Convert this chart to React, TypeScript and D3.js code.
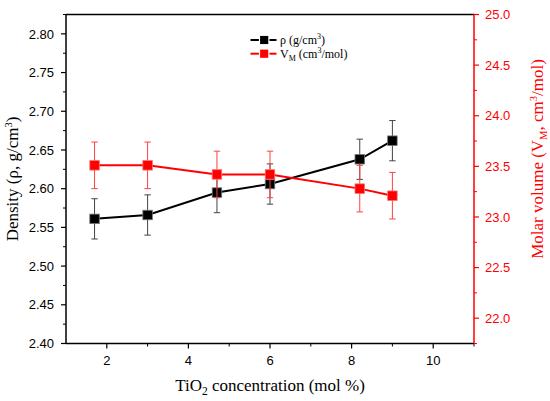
import { useEffect } from "react";
import * as d3 from "d3";

// TiO2 content (mol %)
const tio2 = [1.7, 3, 4.7, 6, 8.2, 9];
// density, g/cm3
const density = [2.561, 2.566, 2.595, 2.606, 2.638, 2.662];
const densityErr = [0.026, 0.026, 0.026, 0.026, 0.026, 0.026];
// molar volume, cm3/mol
const molarVol = [23.51, 23.51, 23.42, 23.42, 23.28, 23.21];
const molarVolErr = [0.23, 0.23, 0.23, 0.23, 0.23, 0.23];

const xTicks = [2, 4, 6, 8, 10];
const xMinor = [3, 5, 7, 9, 11];
const leftTicks = [2.4, 2.45, 2.5, 2.55, 2.6, 2.65, 2.7, 2.75, 2.8];
const rightTicks = [22.0, 22.5, 23.0, 23.5, 24.0, 24.5, 25.0];

const W = 550;
const H = 401;
const margin = { top: 14.5, right: 76, bottom: 57.5, left: 66 };
const RED = "#ff0000";
const sans = "'Liberation Sans', Arial, sans-serif";
const serif = "'Liberation Serif', 'Times New Roman', serif";

export default function App() {
  useEffect(() => {
    document.body.style.margin = "0";
  }, []);

  const x0 = margin.left;
  const x1 = W - margin.right;
  const y0 = H - margin.bottom;
  const y1 = margin.top;

  const x = d3.scaleLinear().domain([1, 11]).range([x0, x1]);
  const yL = d3.scaleLinear().domain([2.4, 2.825]).range([y0, y1]);
  const yR = d3.scaleLinear().domain([21.75, 25.0]).range([y0, y1]);

  // minor ticks halfway between the labelled ones
  const leftMinor = d3.range(2.425, 2.83, 0.05);
  const rightMinor = d3.range(21.75, 25.0, 0.5);

  const line = d3
    .line<[number, number]>()
    .x((d) => d[0])
    .y((d) => d[1]);

  const blackPts: [number, number][] = tio2.map((t, i) => [x(t), yL(density[i])]);
  const redPts: [number, number][] = tio2.map((t, i) => [x(t), yR(molarVol[i])]);

  const sq = 9.5;
  const cap = 3.2;

  return (
    <svg width={W} height={H} style={{ display: "block" }}>
      <rect width={W} height={H} fill="#fff" />

      {/* black series */}
      <path d={line(blackPts) ?? ""} fill="none" stroke="#000" strokeWidth={2} />
      {tio2.map((t, i) => {
        const cx = x(t);
        const top = yL(density[i] + densityErr[i]);
        const bot = yL(density[i] - densityErr[i]);
        return (
          <g key={`be${i}`} stroke="#444" strokeWidth={1}>
            <line x1={cx} x2={cx} y1={top} y2={bot} />
            <line x1={cx - cap} x2={cx + cap} y1={top} y2={top} />
            <line x1={cx - cap} x2={cx + cap} y1={bot} y2={bot} />
          </g>
        );
      })}
      {blackPts.map((p, i) => (
        <rect
          key={`bs${i}`}
          x={p[0] - sq / 2}
          y={p[1] - sq / 2}
          width={sq}
          height={sq}
          fill="#000"
          stroke="#777"
          strokeWidth={0.8}
        />
      ))}

      {/* red series */}
      <path d={line(redPts) ?? ""} fill="none" stroke={RED} strokeWidth={2} />
      {tio2.map((t, i) => {
        const cx = x(t);
        const top = yR(molarVol[i] + molarVolErr[i]);
        const bot = yR(molarVol[i] - molarVolErr[i]);
        return (
          <g key={`re${i}`} stroke="#ff4040" strokeWidth={1}>
            <line x1={cx} x2={cx} y1={top} y2={bot} />
            <line x1={cx - cap} x2={cx + cap} y1={top} y2={top} />
            <line x1={cx - cap} x2={cx + cap} y1={bot} y2={bot} />
          </g>
        );
      })}
      {redPts.map((p, i) => (
        <rect
          key={`rs${i}`}
          x={p[0] - sq / 2}
          y={p[1] - sq / 2}
          width={sq}
          height={sq}
          fill={RED}
          stroke="#ff7070"
          strokeWidth={0.8}
        />
      ))}

      {/* frame */}
      <line x1={x0} x2={x1} y1={y1} y2={y1} stroke="#000" strokeWidth={1.5} />
      <line x1={x0} x2={x1} y1={y0} y2={y0} stroke="#000" strokeWidth={1.5} />
      <line x1={x0} x2={x0} y1={y1} y2={y0} stroke="#000" strokeWidth={1.5} />
      <line x1={x1} x2={x1} y1={y1} y2={y0} stroke={RED} strokeWidth={1.5} />

      {/* x axis */}
      {xTicks.map((t) => (
        <g key={`xt${t}`}>
          <line x1={x(t)} x2={x(t)} y1={y0} y2={y0 + 5} stroke="#000" strokeWidth={1.2} />
          <text x={x(t)} y={y0 + 21} textAnchor="middle" fontFamily={sans} fontSize={13}>
            {t}
          </text>
        </g>
      ))}
      {xMinor.map((t) => (
        <line key={`xm${t}`} x1={x(t)} x2={x(t)} y1={y0} y2={y0 + 3} stroke="#000" strokeWidth={1} />
      ))}
      <text x={(x0 + x1) / 2} y={391} textAnchor="middle" fontFamily={serif} fontSize={17}>
        TiO
        <tspan fontSize={11.5} dy={4}>2</tspan>
        <tspan dy={-4}> concentration (mol %)</tspan>
      </text>

      {/* left axis */}
      {leftTicks.map((t) => (
        <g key={`yl${t}`}>
          <line x1={x0 - 5} x2={x0} y1={yL(t)} y2={yL(t)} stroke="#000" strokeWidth={1.2} />
          <text
            x={x0 - 12}
            y={yL(t)}
            dy="0.36em"
            textAnchor="end"
            fontFamily={sans}
            fontSize={13}
          >
            {t.toFixed(2)}
          </text>
        </g>
      ))}
      {leftMinor.map((t) => (
        <line key={`ylm${t}`} x1={x0 - 3} x2={x0} y1={yL(t)} y2={yL(t)} stroke="#000" strokeWidth={1} />
      ))}
      <text
        transform={`translate(18,${(y0 + y1) / 2}) rotate(-90)`}
        textAnchor="middle"
        fontFamily={serif}
        fontSize={17}
      >
        Density (ρ, g/cm
        <tspan fontSize={10.5} dy={-6}>3</tspan>
        <tspan dy={6}>)</tspan>
      </text>

      {/* right axis */}
      {rightTicks.map((t) => (
        <g key={`yr${t}`}>
          <line x1={x1} x2={x1 + 5} y1={yR(t)} y2={yR(t)} stroke={RED} strokeWidth={1.2} />
          <text
            x={x1 + 11}
            y={yR(t)}
            dy="0.36em"
            textAnchor="start"
            fontFamily={sans}
            fontSize={13}
            fill={RED}
          >
            {t.toFixed(1)}
          </text>
        </g>
      ))}
      {rightMinor.map((t) => (
        <line key={`yrm${t}`} x1={x1} x2={x1 + 3} y1={yR(t)} y2={yR(t)} stroke={RED} strokeWidth={1} />
      ))}
      <text
        transform={`translate(543,159) rotate(-90)`}
        textAnchor="middle"
        fontFamily={serif}
        fontSize={17}
        fill={RED}
      >
        Molar volume (V
        <tspan fontSize={10.5} dy={4}>M</tspan>
        <tspan dy={-4}>, cm</tspan>
        <tspan fontSize={10.5} dy={-6}>3</tspan>
        <tspan dy={6}>/mol)</tspan>
      </text>

      {/* legend */}
      <g>
        <line x1={250.5} x2={276.5} y1={40} y2={40} stroke="#000" strokeWidth={2} />
        <rect x={259.5} y={35.3} width={9.4} height={9.4} fill="#000" stroke="#fff" strokeWidth={1.2} />
        <text x={280} y={44} fontFamily={serif} fontSize={12}>
          ρ (g/cm
          <tspan fontSize={8} dy={-5}>3</tspan>
          <tspan dy={5}>)</tspan>
        </text>
        <line x1={250.5} x2={276.5} y1={53.7} y2={53.7} stroke={RED} strokeWidth={2} />
        <rect x={259.5} y={49} width={9.4} height={9.4} fill={RED} stroke="#fff" strokeWidth={1.2} />
        <text x={280} y={57.7} fontFamily={serif} fontSize={12}>
          V
          <tspan fontSize={8} dy={3}>M</tspan>
          <tspan dy={-3}> (cm</tspan>
          <tspan fontSize={8} dy={-5}>3</tspan>
          <tspan dy={5}>/mol)</tspan>
        </text>
      </g>
    </svg>
  );
}
